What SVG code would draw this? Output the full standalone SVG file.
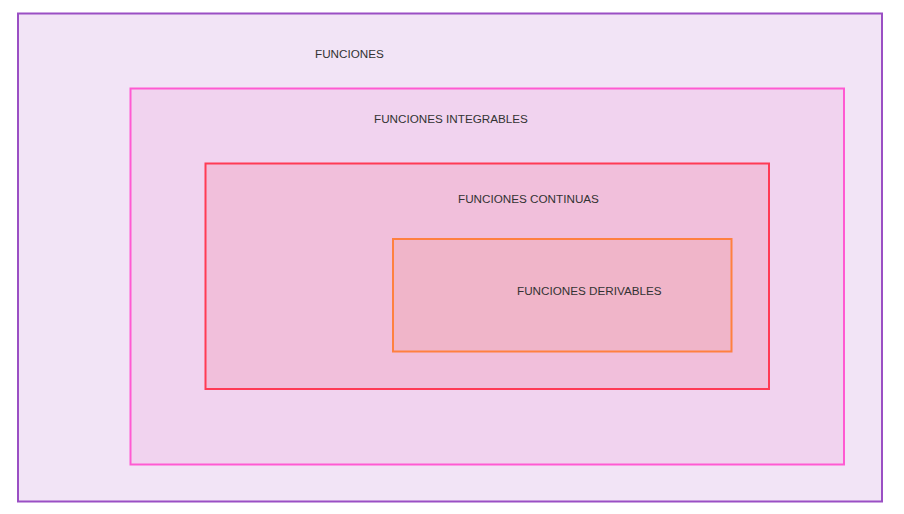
<svg xmlns="http://www.w3.org/2000/svg" width="904" height="514" viewBox="0 0 904 514">
  <style>
    .set { stroke-width: 2; }
    .lbl { font-family: "Liberation Sans", Arial, sans-serif; font-size: 11.7px; fill: #333333; }
  </style>
  <rect width="904" height="514" fill="#ffffff"/>
  <g id="funciones">
    <rect class="set" x="18" y="13.5" width="864" height="488" fill="#f2e4f6" stroke="#9a4fc4"/>
    <text class="lbl" x="315" y="58">FUNCIONES</text>
  </g>
  <g id="integrables">
    <rect class="set" x="130.5" y="88.5" width="713.5" height="376" fill="#f1d3ef" stroke="#ff5ad2"/>
    <text class="lbl" x="374" y="122.5">FUNCIONES INTEGRABLES</text>
  </g>
  <g id="continuas">
    <rect class="set" x="205.5" y="163.5" width="563.5" height="225.5" fill="#f1bfdb" stroke="#ff3b55"/>
    <text class="lbl" x="458" y="203">FUNCIONES CONTINUAS</text>
  </g>
  <g id="derivables">
    <rect class="set" x="393" y="239" width="338.5" height="112.5" fill="#f0b5c9" stroke="#ff8040"/>
    <text class="lbl" x="517" y="295">FUNCIONES DERIVABLES</text>
  </g>
  <g id="connectors"/>
</svg>
